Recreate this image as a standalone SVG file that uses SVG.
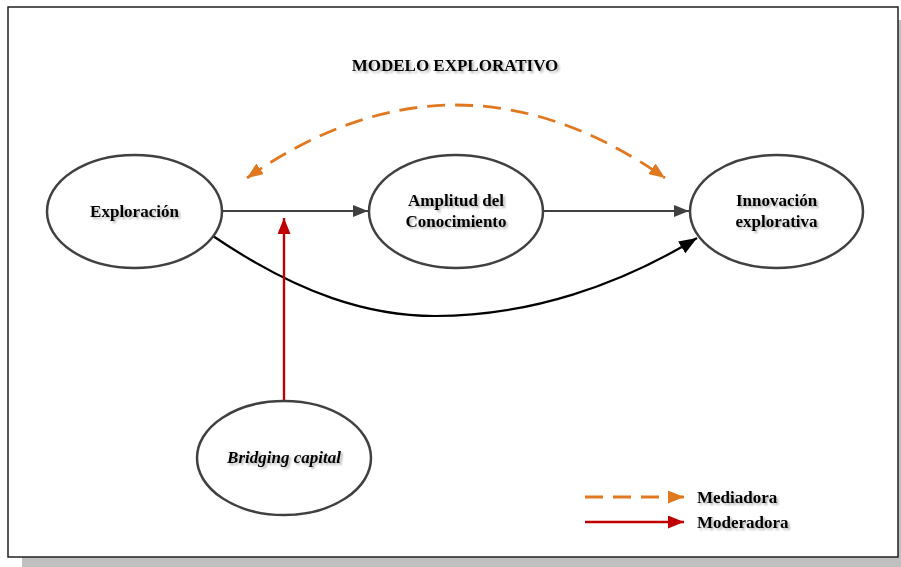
<svg xmlns="http://www.w3.org/2000/svg" width="901" height="567" viewBox="0 0 901 567">
  <style>
    .node ellipse { fill: #ffffff; stroke: #404040; stroke-width: 2.5; }
    .lbl { font-family: "Liberation Serif", "Times New Roman", serif; font-weight: bold; font-size: 17px; fill: #000; text-anchor: middle; }
    .ital { font-style: italic; }
    .leg { font-family: "Liberation Serif", "Times New Roman", serif; font-weight: bold; font-size: 17px; fill: #000; }
    .flow { fill: none; stroke: #404040; stroke-width: 2; }
    .direct { fill: none; stroke: #000; stroke-width: 2.2; }
    .mod { fill: none; stroke: #c00000; stroke-width: 2.4; }
    .med { fill: none; stroke: #e07820; stroke-width: 2.8; stroke-dasharray: 18 10; }
  </style>
  <defs>
    <marker id="ahBlack" viewBox="0 0 18 14" refX="18" refY="7" markerWidth="18" markerHeight="14" markerUnits="userSpaceOnUse" orient="auto">
      <path d="M0,0 L18,7 L0,14 Z" fill="#000"/>
    </marker>
    <marker id="ahRed" viewBox="0 0 16 13" refX="16" refY="6.5" markerWidth="16" markerHeight="13" markerUnits="userSpaceOnUse" orient="auto">
      <path d="M0,0 L16,6.5 L0,13 Z" fill="#c00000"/>
    </marker>
    <marker id="ahOrange" viewBox="0 0 16 13" refX="16" refY="6.5" markerWidth="16" markerHeight="13" markerUnits="userSpaceOnUse" orient="auto">
      <path d="M0,0 L16,6.5 L0,13 Z" fill="#e07820"/>
    </marker>
    <marker id="ahOrangeStart" viewBox="0 0 16 13" refX="0" refY="6.5" markerWidth="16" markerHeight="13" markerUnits="userSpaceOnUse" orient="auto">
      <path d="M16,0 L0,6.5 L16,13 Z" fill="#e07820"/>
    </marker>
    <marker id="ahFlow" viewBox="0 0 15 12" refX="15" refY="6" markerWidth="15" markerHeight="12" markerUnits="userSpaceOnUse" orient="auto">
      <path d="M0,0 L15,6 L0,12 Z" fill="#404040"/>
    </marker>
    <filter id="txtShadow" x="-10%" y="-30%" width="120%" height="160%">
      <feGaussianBlur in="SourceAlpha" stdDeviation="1"/>
      <feOffset dx="1.5" dy="1.5" result="b"/>
      <feComponentTransfer><feFuncA type="linear" slope="0.3"/></feComponentTransfer>
      <feMerge><feMergeNode/><feMergeNode in="SourceGraphic"/></feMerge>
    </filter>
  </defs>

  <!-- page frame with drop shadow -->
  <rect x="22" y="20" width="890" height="560" fill="#c0c0c0"/>
  <rect x="8" y="7" width="890" height="550" fill="#ffffff" stroke="#202020" stroke-width="1.5"/>

  <text class="lbl" x="455" y="71" filter="url(#txtShadow)">MODELO EXPLORATIVO</text>

  <g id="connectors">
    <path class="flow" d="M222,211 L368,211" marker-end="url(#ahFlow)"/>
    <path class="flow" d="M543,211 L689,211" marker-end="url(#ahFlow)"/>
    <path class="direct" d="M213,236 C300,295 370,316 435,316 C530,316 620,285 697,238" marker-end="url(#ahBlack)"/>
    <path class="mod" d="M284,400 L284,218" marker-end="url(#ahRed)"/>
    <path class="med" d="M247,178 Q456,32 665,178" marker-start="url(#ahOrangeStart)" marker-end="url(#ahOrange)"/>
  </g>

  <g id="exploracion" class="node">
    <ellipse cx="134.5" cy="211.5" rx="87.5" ry="56.5"/>
    <text class="lbl" x="134.5" y="217" filter="url(#txtShadow)">Exploración</text>
  </g>

  <g id="amplitud" class="node">
    <ellipse cx="456" cy="211.5" rx="87" ry="56.5"/>
    <text class="lbl" x="456" y="206" filter="url(#txtShadow)">Amplitud del</text>
    <text class="lbl" x="456" y="227" filter="url(#txtShadow)">Conocimiento</text>
  </g>

  <g id="innovacion" class="node">
    <ellipse cx="776.5" cy="211.5" rx="86.5" ry="56.5"/>
    <text class="lbl" x="776.5" y="206" filter="url(#txtShadow)">Innovación</text>
    <text class="lbl" x="776.5" y="227" filter="url(#txtShadow)">explorativa</text>
  </g>

  <g id="bridging" class="node">
    <ellipse cx="284" cy="458" rx="87" ry="57"/>
    <text class="lbl ital" x="284" y="463" filter="url(#txtShadow)">Bridging capital</text>
  </g>

  <g id="legend">
    <path class="med" d="M585,497 L684,497" marker-end="url(#ahOrange)"/>
    <path class="mod" d="M585,522 L684,522" marker-end="url(#ahRed)"/>
    <text class="leg" x="697" y="503" filter="url(#txtShadow)">Mediadora</text>
    <text class="leg" x="697" y="528" filter="url(#txtShadow)">Moderadora</text>
  </g>
</svg>
